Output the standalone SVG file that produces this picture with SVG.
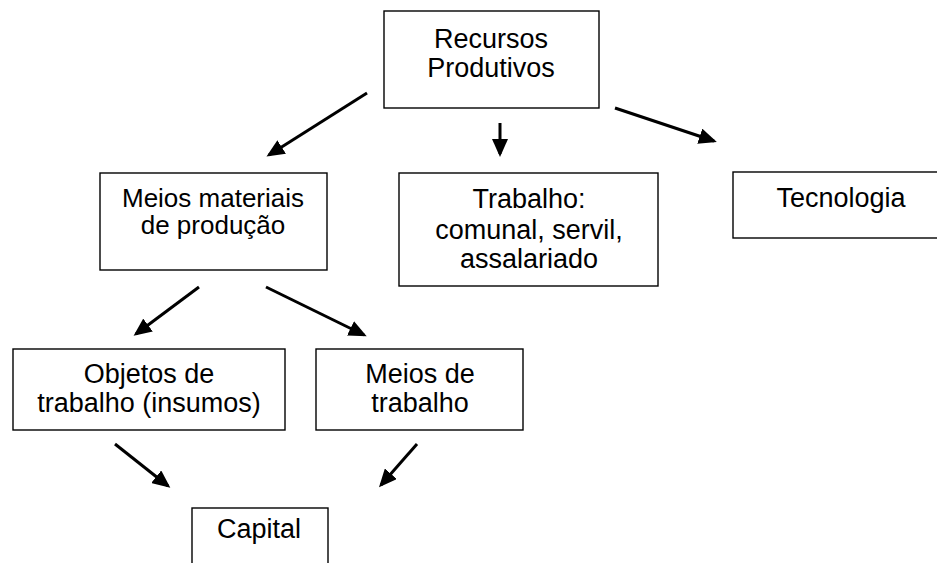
<svg xmlns="http://www.w3.org/2000/svg" width="937" height="563" viewBox="0 0 937 563">
<style>
.box{fill:#fff;stroke:#000;stroke-width:1.4}
.t{font-family:"Liberation Sans",Arial,sans-serif;font-size:27px;fill:#000;text-anchor:middle}
.s{font-size:26px}
.arr{stroke:#000;stroke-width:3;fill:none;marker-end:url(#ah)}
</style>
<defs>
<marker id="ah" markerUnits="userSpaceOnUse" markerWidth="19" markerHeight="16" refX="15" refY="8" orient="auto" viewBox="0 0 19 16">
<path d="M0,0 L18,8 L0,16 Z" fill="#000"/>
</marker>
</defs>
<rect width="937" height="563" fill="#fff"/>
<g id="recursos">
<rect class="box" x="384" y="11" width="215" height="97"/>
<text class="t" x="491" y="48">Recursos</text>
<text class="t" x="491" y="77">Produtivos</text>
</g>
<g id="meios-materiais">
<rect class="box" x="100" y="173" width="227" height="97"/>
<text class="t s" x="213" y="207">Meios materiais</text>
<text class="t s" x="213" y="234">de produção</text>
</g>
<g id="trabalho">
<rect class="box" x="399" y="173" width="259" height="113"/>
<text class="t" x="529" y="208">Trabalho:</text>
<text class="t" x="529" y="239">comunal, servil,</text>
<text class="t" x="529" y="268">assalariado</text>
</g>
<g id="tecnologia">
<rect class="box" x="733" y="172" width="220" height="66"/>
<text class="t" x="841" y="207">Tecnologia</text>
</g>
<g id="objetos">
<rect class="box" x="13" y="349" width="272" height="81"/>
<text class="t" x="149" y="383">Objetos de</text>
<text class="t" x="149" y="412">trabalho (insumos)</text>
</g>
<g id="meios-trabalho">
<rect class="box" x="316" y="349" width="207" height="81"/>
<text class="t" x="420" y="383">Meios de</text>
<text class="t" x="420" y="412">trabalho</text>
</g>
<g id="capital">
<rect class="box" x="192" y="508" width="136" height="70"/>
<text class="t" x="259" y="538">Capital</text>
</g>
<g id="connectors">
<line class="arr" x1="367" y1="93" x2="269" y2="155"/>
<line class="arr" x1="500" y1="123" x2="500" y2="154"/>
<line class="arr" x1="615" y1="108" x2="714" y2="141"/>
<line class="arr" x1="199" y1="287" x2="136" y2="334"/>
<line class="arr" x1="266" y1="287" x2="364" y2="335"/>
<line class="arr" x1="115" y1="444" x2="168" y2="486"/>
<line class="arr" x1="417" y1="444" x2="381" y2="485"/>
</g>
</svg>
